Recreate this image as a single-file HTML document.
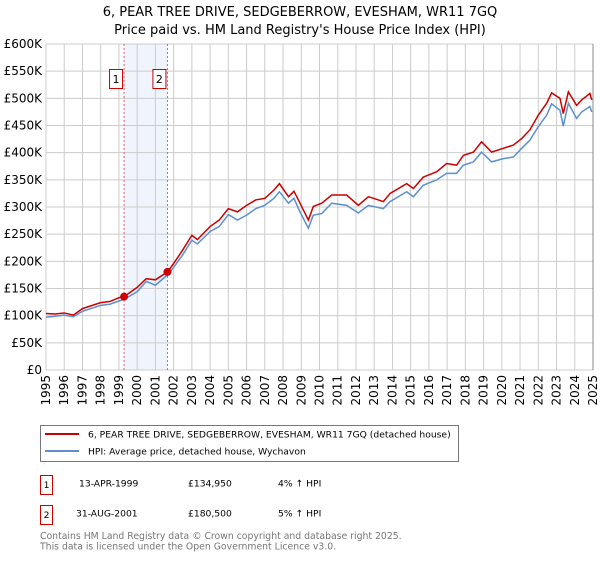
<!DOCTYPE html>
<html><head><meta charset="utf-8">
<style>
body{margin:0;background:#fff;font-family:"DejaVu Sans","Liberation Sans",sans-serif;}
svg text{font-family:"DejaVu Sans","Liberation Sans",sans-serif;}
</style></head>
<body>
<svg id="chart" width="600" height="560" xmlns="http://www.w3.org/2000/svg">
<text x="300" y="16" font-size="13" text-anchor="middle" fill="#000">6, PEAR TREE DRIVE, SEDGEBERROW, EVESHAM, WR11 7GQ</text>
<text x="300" y="34" font-size="13" text-anchor="middle" fill="#000">Price paid vs. HM Land Registry's House Price Index (HPI)</text>
<g id="grid"></g>
<g id="marks"></g>
<g id="axes"></g>

<rect x="40.5" y="425.5" width="418" height="36" fill="#fff" stroke="#777"/>
<line x1="45" y1="434" x2="79" y2="434" stroke="#cc0000" stroke-width="2"/>
<text x="88" y="437.5" font-size="9.2">6, PEAR TREE DRIVE, SEDGEBERROW, EVESHAM, WR11 7GQ (detached house)</text>
<line x1="45" y1="451" x2="79" y2="451" stroke="#5b8fd0" stroke-width="2"/>
<text x="88" y="454.5" font-size="9.2">HPI: Average price, detached house, Wychavon</text>

<rect x="40.5" y="475.5" width="12" height="19" fill="#fff" stroke="#cc0000"/>
<text x="46.5" y="488" font-size="9.2" text-anchor="middle">1</text>
<text x="79" y="486.5" font-size="9.2">13-APR-1999</text>
<text x="188" y="486.5" font-size="9.2">£134,950</text>
<text x="278" y="486.5" font-size="9.2">4% ↑ HPI</text>
<rect x="40.5" y="505.5" width="12" height="19" fill="#fff" stroke="#cc0000"/>
<text x="46.5" y="518" font-size="9.2" text-anchor="middle">2</text>
<text x="76" y="516.5" font-size="9.2">31-AUG-2001</text>
<text x="188" y="516.5" font-size="9.2">£180,500</text>
<text x="278" y="516.5" font-size="9.2">5% ↑ HPI</text>
<text x="40" y="539" font-size="9.3" fill="#777">Contains HM Land Registry data © Crown copyright and database right 2025.</text>
<text x="40" y="549.5" font-size="9.3" fill="#777">This data is licensed under the Open Government Licence v3.0.</text>
</svg>
<script>
const dates=[1995.0,1995.5,1996.0,1996.5,1997.0,1998.0,1998.5,1999.0,1999.28,2000.0,2000.5,2001.0,2001.66,2002.0,2002.5,2003.0,2003.3,2004.0,2004.5,2005.0,2005.5,2006.0,2006.5,2007.0,2007.5,2007.8,2008.3,2008.6,2008.93,2009.39,2009.66,2010.12,2010.67,2011.49,2012.13,2012.68,2013.5,2013.87,2014.78,2015.15,2015.69,2016.43,2016.97,2017.52,2017.89,2018.44,2018.89,2019.44,2020.08,2020.63,2021.09,2021.54,2022.0,2022.46,2022.73,2023.19,2023.37,2023.65,2024.1,2024.38,2024.83,2024.93];
const propertyValues=[104,103,105,101,113,124,126,133,134.95,152,168,166,180.5,196,221,248,240,264,276,297,291,303,313,316,331,343,319,329,307,276,301,307,322,322,303,319,310,325,343,334,355,365,380,377,395,401,420,401,408,414,426,442,469,491,510,500,472,512,487,497,509,497];
const hpiValues=[97,99,101,98,108,119,121,127,130,144,163,156,175,189,212,239,232,255,264,286,276,285,297,303,316,328,307,316,291,261,285,288,307,303,289,303,297,310,328,319,340,350,362,362,377,383,401,383,389,392,408,423,448,469,490,478,449,491,463,475,485,475];
const yTicks=[0,50,100,150,200,250,300,350,400,450,500,550,600];
const yTickLabels=["£0","£50K","£100K","£150K","£200K","£250K","£300K","£350K","£400K","£450K","£500K","£550K","£600K"];
const xTicks=[1995,1996,1997,1998,1999,2000,2001,2002,2003,2004,2005,2006,2007,2008,2009,2010,2011,2012,2013,2014,2015,2016,2017,2018,2019,2020,2021,2022,2023,2024,2025];
const saleDates=[1999.28,2001.66];
const salePrices=[134.95,180.5];
const saleLabels=["1","2"];

const L=46,R=593,T=44,B=370;
const X=y=>L+(y-1995)/30*(R-L);
const Y=v=>B-v/600*(B-T);
const NS="http://www.w3.org/2000/svg";
function mk(parent,tag,attrs){const e=document.createElementNS(NS,tag);for(const k in attrs)e.setAttribute(k,attrs[k]);parent.appendChild(e);return e;}
const grid=document.getElementById('grid'),marks=document.getElementById('marks'),axes=document.getElementById('axes');

const band=mk(grid,'rect',{x:X(saleDates[0]),y:T,width:X(saleDates[1])-X(saleDates[0]),height:B-T,fill:'#f0f4fc'});


xTicks.forEach(t=>{const l=mk(grid,'line',{x1:X(t),x2:X(t),y1:T,y2:B,stroke:'#ccc','stroke-width':1});

});
yTicks.forEach((t,i)=>{const l=mk(grid,'line',{x1:L,x2:R,y1:Y(t),y2:Y(t),stroke:'#ccc','stroke-width':1});


const tx=mk(axes,'text',{x:L-4,y:Y(t)+4,'font-size':12,'text-anchor':'end'});tx.textContent=yTickLabels[i];

});
xTicks.forEach(t=>{const tx=mk(axes,'text',{x:0,y:0,'font-size':12,'text-anchor':'end',transform:`translate(${X(t)+4},${B+5}) rotate(-90)`});tx.textContent=t;

});
const ax=mk(axes,'line',{x1:R,x2:R,y1:T,y2:B,stroke:'#888'});



saleDates.forEach((d,i)=>{const l=mk(marks,'line',{x1:X(d),x2:X(d),y1:T,y2:B,stroke:'#e06060','stroke-dasharray':'2,2'});


const r=mk(marks,'rect',{x:X(d)-14.5,y:69.5,width:13,height:19,fill:'#fff',stroke:'#cc0000'});


const t=mk(marks,'text',{x:X(d)-8,y:83,'font-size':11,'text-anchor':'middle'});t.textContent=saleLabels[i];

});

const hp=mk(marks,'polyline',{points:dates.map((d,i)=>X(d)+','+Y(hpiValues[i])).join(' '),fill:'none',stroke:'#5b8fd0','stroke-width':1.5});


const pp=mk(marks,'polyline',{points:dates.map((d,i)=>X(d)+','+Y(propertyValues[i])).join(' '),fill:'none',stroke:'#cc0000','stroke-width':1.5});


saleDates.forEach((d,i)=>{const c=mk(marks,'circle',{cx:X(d),cy:Y(salePrices[i]),r:4,fill:'#cc0000'});

});
</script>
</body></html>
